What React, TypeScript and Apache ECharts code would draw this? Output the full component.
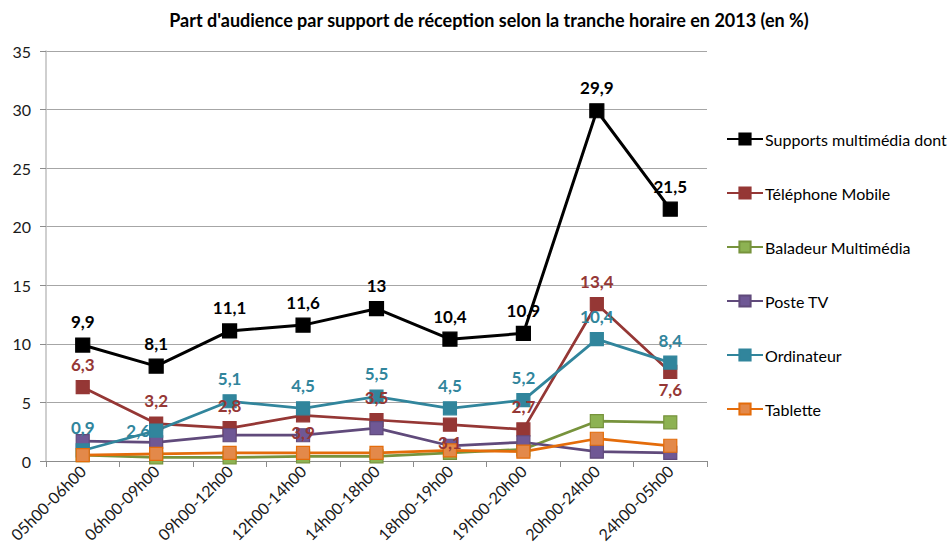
import React, { useEffect, useRef } from "react";
import * as echarts from "echarts";

const categories = [
  "05h00-06h00",
  "06h00-09h00",
  "09h00-12h00",
  "12h00-14h00",
  "14h00-18h00",
  "18h00-19h00",
  "19h00-20h00",
  "20h00-24h00",
  "24h00-05h00",
];

const supportsMultimedia = [9.9, 8.1, 11.1, 11.6, 13, 10.4, 10.9, 29.9, 21.5];
const telephoneMobile = [6.3, 3.2, 2.8, 3.9, 3.5, 3.1, 2.7, 13.4, 7.6];
const baladeur = [0.5, 0.3, 0.3, 0.4, 0.4, 0.7, 1.0, 3.4, 3.3];
const posteTV = [1.7, 1.6, 2.2, 2.2, 2.8, 1.3, 1.6, 0.8, 0.7];
const ordinateur = [0.9, 2.6, 5.1, 4.5, 5.5, 4.5, 5.2, 10.4, 8.4];
const tablette = [0.5, 0.6, 0.7, 0.7, 0.7, 0.9, 0.8, 1.9, 1.3];

const telLabelPos = ["top", "top", "top", "bottom", "top", "bottom", "top", "top", "bottom"];
const ordiLabelPos = ["top", "left", "top", "top", "top", "top", "top", "top", "top"];

const FONT = "Lato, 'Open Sans', sans-serif";

const fmt = (p: any) => String(p.value).replace(".", ",");

function makeData(values: number[], positions?: string[]) {
  return values.map((v, i) => {
    if (!positions) return v;
    const pos = positions[i];
    return {
      value: v,
      label: {
        position: pos,
        distance: pos === "left" ? -1 : pos === "bottom" ? 2 : 7,
      },
    };
  });
}

export default function App() {
  const ref = useRef<HTMLDivElement>(null);

  useEffect(() => {
    if (!ref.current) return;
    const chart = echarts.init(ref.current, undefined, { renderer: "svg" });

    const labelStyle = (color: string) => ({
      show: true,
      position: "top",
      distance: 7,
      color,
      fontWeight: "bold",
      fontSize: 17,
      fontFamily: FONT,
      formatter: fmt,
    });

    const mk = (
      name: string,
      data: any[],
      line: string,
      fill: string,
      width: number,
      size: number,
      label?: any
    ) => ({
      name,
      type: "line",
      data,
      symbol: "rect",
      symbolSize: size,
      lineStyle: { color: line, width },
      itemStyle: { color: fill, borderColor: line, borderWidth: 1.2 },
      label: label || { show: false },
      emphasis: { disabled: true },
    });

    chart.setOption({
      animation: false,
      title: {
        text: "Part d'audience par support de réception selon la tranche horaire en 2013 (en %)",
        left: 484,
        textAlign: "center",
        top: 6,
        textStyle: { fontFamily: FONT, fontSize: 18, fontWeight: "bold", color: "#000" },
      },
      grid: { left: 46, right: 245, top: 51, bottom: 90, containLabel: false },
      legend: {
        orient: "vertical",
        left: 721,
        top: 126,
        itemGap: 38,
        itemWidth: 36,
        itemHeight: 14,
        textStyle: { fontFamily: FONT, fontSize: 16, color: "#000", padding: [0, 0, 0, -3] },
        data: [
          "Supports multimédia dont",
          "Téléphone Mobile",
          "Baladeur Multimédia",
          "Poste TV",
          "Ordinateur",
          "Tablette",
        ],
      },
      xAxis: {
        type: "category",
        data: categories,
        boundaryGap: true,
        axisLine: { lineStyle: { color: "#8c8c8c", width: 1 } },
        axisTick: { show: true, length: 6, lineStyle: { color: "#8c8c8c" } },
        axisLabel: {
          rotate: 45,
          margin: 7,
          fontFamily: FONT,
          fontSize: 16,
          color: "#1a1a1a",
          interval: 0,
        },
      },
      yAxis: {
        type: "value",
        min: 0,
        max: 35,
        interval: 5,
        axisLine: { show: true, lineStyle: { color: "#bfbfbf", width: 1.5 } },
        axisTick: { show: true, length: 6, lineStyle: { color: "#8c8c8c" } },
        splitLine: { lineStyle: { color: "#a6a6a6", width: 1 } },
        axisLabel: { fontFamily: FONT, fontSize: 16, color: "#1a1a1a", margin: 15 },
      },
      series: [
        mk(
          "Supports multimédia dont",
          supportsMultimedia,
          "#000000",
          "#000000",
          3,
          14,
          labelStyle("#000000")
        ),
        mk(
          "Téléphone Mobile",
          makeData(telephoneMobile, telLabelPos),
          "#953735",
          "#953735",
          2.75,
          13,
          labelStyle("#953735")
        ),
        mk("Baladeur Multimédia", baladeur, "#77933c", "#8db252", 2.75, 13),
        mk("Poste TV", posteTV, "#604a7b", "#6f5895", 2.75, 13),
        mk(
          "Ordinateur",
          makeData(ordinateur, ordiLabelPos),
          "#31859c",
          "#31859c",
          2.75,
          13,
          labelStyle("#31859c")
        ),
        mk("Tablette", tablette, "#e46c0a", "#e3894a", 2.75, 13),
      ],
    });

    return () => chart.dispose();
  }, []);

  return (
    <div
      ref={ref}
      style={{ position: "fixed", left: 0, top: 0, width: 952, height: 551, background: "#fff" }}
    />
  );
}
